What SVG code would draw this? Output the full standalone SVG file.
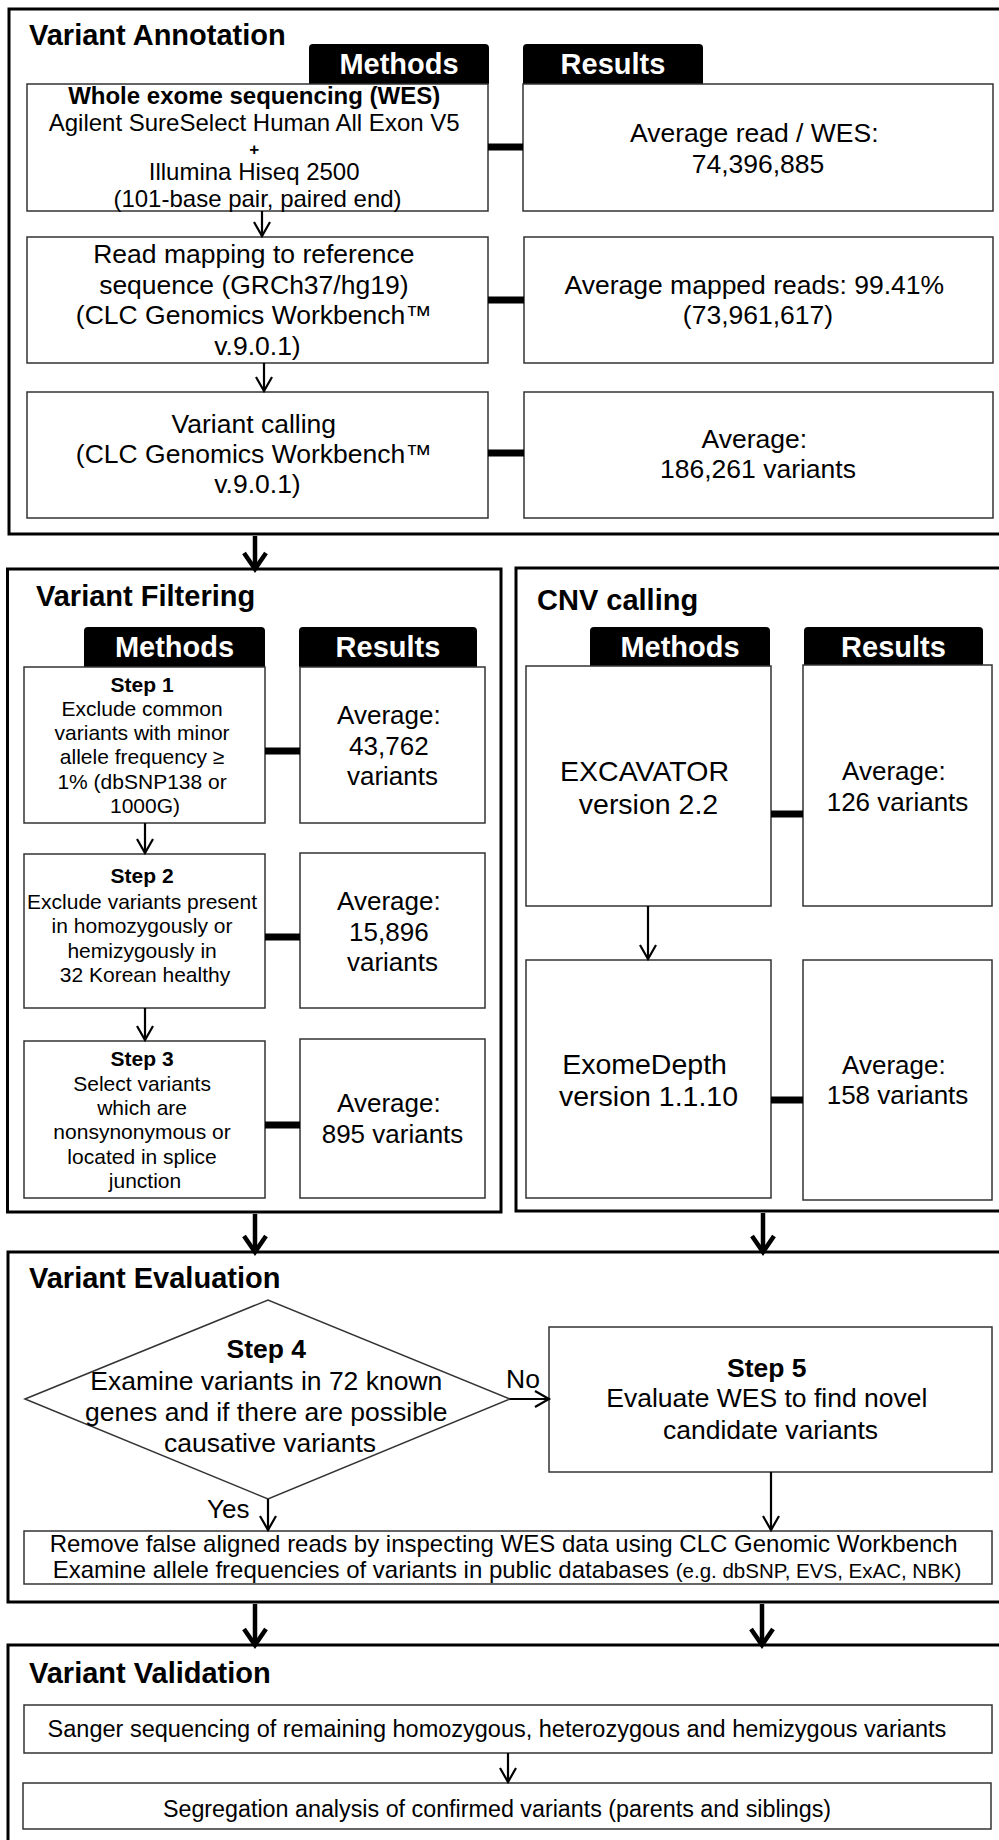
<svg xmlns="http://www.w3.org/2000/svg" width="999" height="1840" viewBox="0 0 999 1840">
<style>
.sec{fill:none;stroke:#000;stroke-width:3}
.box{fill:#fff;stroke:#333;stroke-width:1.5}
.tab{fill:#000}
.tabt{font-family:"Liberation Sans",Arial,sans-serif;font-weight:bold;font-size:29px;fill:#fff;text-anchor:middle}
.t{font-family:"Liberation Sans",Arial,sans-serif;fill:#000}
.c{text-anchor:middle}
.b{font-weight:bold}
.ttl{font-family:"Liberation Sans",Arial,sans-serif;font-weight:bold;font-size:29px;fill:#000}
.conn{stroke:#000;stroke-width:7;fill:none}
.arr{fill:none;stroke:#000;stroke-width:2.2;marker-end:url(#ah)}
.thick{fill:none;stroke:#000;stroke-width:4.5;marker-end:url(#ahb)}
</style>
<defs>
<marker id="ah" markerUnits="userSpaceOnUse" markerWidth="18" markerHeight="20" viewBox="0 0 18 20" refX="15" refY="10" orient="auto">
<path d="M1,2 L15,10 L1,18" fill="none" stroke="#000" stroke-width="2.2"/>
</marker>
<marker id="ahb" markerUnits="userSpaceOnUse" markerWidth="24" markerHeight="28" viewBox="0 0 24 28" refX="19" refY="14" orient="auto">
<path d="M3,3 L19,14 L3,25" fill="none" stroke="#000" stroke-width="4.5"/>
</marker>
</defs>
<rect width="999" height="1840" fill="#fff"/>

<!-- Variant Annotation -->
<g id="sec-annotation">
<rect class="sec" x="9" y="9" width="1000" height="525"/>
<text class="ttl" x="29" y="45">Variant Annotation</text>
<path class="tab" d="M309,84 V48 Q309,44 313,44 H485 Q489,44 489,48 V84 Z"/>
<text class="tabt" x="399" y="74">Methods</text>
<path class="tab" d="M523,84 V48 Q523,44 527,44 H699 Q703,44 703,48 V84 Z"/>
<text class="tabt" x="613" y="74">Results</text>
</g>
<g id="va-m1">
<rect class="box" x="27" y="84" width="461" height="127"/>
<text class="t c" font-size="24">
<tspan class="b" x="257.5" y="104">Whole exome sequencing (WES)</tspan>
<tspan x="257.5" y="131">Agilent SureSelect Human All Exon V5</tspan>
<tspan class="b" x="257.5" y="155" font-size="17">+</tspan>
<tspan x="257.5" y="180">Illumina Hiseq 2500</tspan>
<tspan x="257.5" y="207">(101-base pair, paired end)</tspan>
</text>
</g>
<g id="va-r1">
<rect class="box" x="523" y="84" width="470" height="127"/>
<text class="t c" font-size="26.5">
<tspan x="758" y="142">Average read / WES:</tspan>
<tspan x="758" y="173">74,396,885</tspan>
</text>
</g>
<g id="va-m2">
<rect class="box" x="27" y="237" width="461" height="126"/>
<text class="t c" font-size="26.5">
<tspan x="257.5" y="263">Read mapping to reference</tspan>
<tspan x="257.5" y="294">sequence (GRCh37/hg19)</tspan>
<tspan x="257.5" y="324">(CLC Genomics Workbench™</tspan>
<tspan x="257.5" y="355">v.9.0.1)</tspan>
</text>
</g>
<g id="va-r2">
<rect class="box" x="524" y="237" width="469" height="126"/>
<text class="t c" font-size="26.5">
<tspan x="758" y="294">Average mapped reads: 99.41%</tspan>
<tspan x="758" y="324">(73,961,617)</tspan>
</text>
</g>
<g id="va-m3">
<rect class="box" x="27" y="392" width="461" height="126"/>
<text class="t c" font-size="26.5">
<tspan x="257.5" y="433">Variant calling</tspan>
<tspan x="257.5" y="463">(CLC Genomics Workbench™</tspan>
<tspan x="257.5" y="493">v.9.0.1)</tspan>
</text>
</g>
<g id="va-r3">
<rect class="box" x="524" y="392" width="469" height="126"/>
<text class="t c" font-size="26.5">
<tspan x="758" y="448">Average:</tspan>
<tspan x="758" y="478">186,261 variants</tspan>
</text>
</g>

<!-- Variant Filtering -->
<g id="sec-filtering">
<rect class="sec" x="7.5" y="569" width="493.5" height="643"/>
<text class="ttl" x="36" y="606">Variant Filtering</text>
<path class="tab" d="M84,667 V631 Q84,627 88,627 H261 Q265,627 265,631 V667 Z"/>
<text class="tabt" x="174.5" y="657">Methods</text>
<path class="tab" d="M299,667 V631 Q299,627 303,627 H473 Q477,627 477,631 V667 Z"/>
<text class="tabt" x="388" y="657">Results</text>
</g>
<g id="vf-s1">
<rect class="box" x="24" y="667" width="241" height="156"/>
<text class="t c" font-size="21">
<tspan class="b" x="145" y="692">Step 1</tspan>
<tspan x="145" y="716">Exclude common</tspan>
<tspan x="145" y="740">variants with minor</tspan>
<tspan x="145" y="764">allele frequency ≥</tspan>
<tspan x="145" y="789">1% (dbSNP138 or</tspan>
<tspan x="145" y="813">1000G)</tspan>
</text>
</g>
<g id="vf-r1">
<rect class="box" x="300" y="667" width="185" height="156"/>
<text class="t c" font-size="26">
<tspan x="392.5" y="724">Average:</tspan>
<tspan x="392.5" y="755">43,762</tspan>
<tspan x="392.5" y="785">variants</tspan>
</text>
</g>
<g id="vf-s2">
<rect class="box" x="24" y="854" width="241" height="154"/>
<text class="t c" font-size="21">
<tspan class="b" x="145" y="883">Step 2</tspan>
<tspan x="145" y="909">Exclude variants present</tspan>
<tspan x="145" y="933">in homozygously or</tspan>
<tspan x="145" y="958">hemizygously in</tspan>
<tspan x="145" y="982">32 Korean healthy</tspan>
</text>
</g>
<g id="vf-r2">
<rect class="box" x="300" y="853" width="185" height="155"/>
<text class="t c" font-size="26">
<tspan x="392.5" y="910">Average:</tspan>
<tspan x="392.5" y="941">15,896</tspan>
<tspan x="392.5" y="971">variants</tspan>
</text>
</g>
<g id="vf-s3">
<rect class="box" x="24" y="1041" width="241" height="157"/>
<text class="t c" font-size="21">
<tspan class="b" x="145" y="1066">Step 3</tspan>
<tspan x="145" y="1091">Select variants</tspan>
<tspan x="145" y="1115">which are</tspan>
<tspan x="145" y="1139">nonsynonymous or</tspan>
<tspan x="145" y="1164">located in splice</tspan>
<tspan x="145" y="1188">junction</tspan>
</text>
</g>
<g id="vf-r3">
<rect class="box" x="300" y="1039" width="185" height="159"/>
<text class="t c" font-size="26">
<tspan x="392.5" y="1112">Average:</tspan>
<tspan x="392.5" y="1143">895 variants</tspan>
</text>
</g>

<!-- CNV calling -->
<g id="sec-cnv">
<rect class="sec" x="516" y="568" width="500" height="643"/>
<text class="ttl" x="537" y="610">CNV calling</text>
<path class="tab" d="M590,666 V631 Q590,627 594,627 H766 Q770,627 770,631 V666 Z"/>
<text class="tabt" x="680" y="657">Methods</text>
<path class="tab" d="M804,666 V631 Q804,627 808,627 H979 Q983,627 983,631 V666 Z"/>
<text class="tabt" x="893.5" y="657">Results</text>
</g>
<g id="cnv-m1">
<rect class="box" x="526" y="666" width="245" height="240"/>
<text class="t c" font-size="28.5">
<tspan x="648.5" y="781">EXCAVATOR</tspan>
<tspan x="648.5" y="814">version 2.2</tspan>
</text>
</g>
<g id="cnv-r1">
<rect class="box" x="803" y="665" width="189" height="241"/>
<text class="t c" font-size="26">
<tspan x="897.5" y="780">Average:</tspan>
<tspan x="897.5" y="811">126 variants</tspan>
</text>
</g>
<g id="cnv-m2">
<rect class="box" x="526" y="960" width="245" height="238"/>
<text class="t c" font-size="28.5">
<tspan x="648.5" y="1074">ExomeDepth</tspan>
<tspan x="648.5" y="1106">version 1.1.10</tspan>
</text>
</g>
<g id="cnv-r2">
<rect class="box" x="803" y="960" width="189" height="240"/>
<text class="t c" font-size="26">
<tspan x="897.5" y="1074">Average:</tspan>
<tspan x="897.5" y="1104">158 variants</tspan>
</text>
</g>

<!-- Variant Evaluation -->
<g id="sec-evaluation">
<rect class="sec" x="8" y="1252" width="1010" height="350"/>
<text class="ttl" x="29" y="1288">Variant Evaluation</text>
</g>
<g id="ve-step4">
<polygon points="25,1399 268,1300 510,1399 268,1499" fill="#fff" stroke="#333" stroke-width="1.5"/>
<text class="t c" font-size="26.5">
<tspan class="b" x="270" y="1358">Step 4</tspan>
<tspan x="270" y="1390">Examine variants in 72 known</tspan>
<tspan x="270" y="1421">genes and if there are possible</tspan>
<tspan x="270" y="1452">causative variants</tspan>
</text>
</g>
<g id="ve-step5">
<rect class="box" x="549" y="1327" width="443" height="145"/>
<text class="t c" font-size="26.5">
<tspan class="b" x="770.5" y="1377">Step 5</tspan>
<tspan x="770.5" y="1407">Evaluate WES to find novel</tspan>
<tspan x="770.5" y="1439">candidate variants</tspan>
</text>
</g>
<g id="ve-check">
<rect class="box" x="24" y="1531" width="968" height="53"/>
<text class="t c" font-size="24">
<tspan x="507" y="1552">Remove false aligned reads by inspecting WES data using CLC Genomic Workbench</tspan>
<tspan x="507" y="1578">Examine allele frequencies of variants in public databases <tspan font-size="20.5">(e.g. dbSNP, EVS, ExAC, NBK)</tspan></tspan>
</text>
</g>

<!-- Variant Validation -->
<g id="sec-validation">
<rect class="sec" x="8" y="1645" width="1010" height="210"/>
<text class="ttl" x="29" y="1683">Variant Validation</text>
</g>
<g id="vv-sanger">
<rect class="box" x="24" y="1705" width="968" height="48"/>
<text class="t c" font-size="23.5" x="497" y="1737">Sanger sequencing of remaining homozygous, heterozygous and hemizygous variants</text>
</g>
<g id="vv-seg">
<rect class="box" x="23" y="1783" width="968" height="46"/>
<text class="t c" font-size="23.3" x="497" y="1817">Segregation analysis of confirmed variants (parents and siblings)</text>
</g>

<!-- Connectors -->
<g id="connectors">
<line class="conn" x1="488" y1="147" x2="523" y2="147"/>
<line class="conn" x1="488" y1="300" x2="524" y2="300"/>
<line class="conn" x1="488" y1="453" x2="524" y2="453"/>
<line class="arr" x1="262" y1="211" x2="262" y2="236"/>
<line class="arr" x1="264" y1="363" x2="264" y2="391"/>
<line class="conn" x1="265" y1="751" x2="300" y2="751"/>
<line class="conn" x1="265" y1="937" x2="300" y2="937"/>
<line class="conn" x1="265" y1="1125" x2="300" y2="1125"/>
<line class="arr" x1="145" y1="823" x2="145" y2="853"/>
<line class="arr" x1="145" y1="1008" x2="145" y2="1040"/>
<line class="conn" x1="771" y1="814" x2="803" y2="814"/>
<line class="conn" x1="771" y1="1100" x2="803" y2="1100"/>
<line class="arr" x1="648" y1="906" x2="648" y2="959"/>
<line class="thick" x1="255" y1="536" x2="255" y2="569"/>
<line class="thick" x1="255" y1="1214" x2="255" y2="1252"/>
<line class="thick" x1="763" y1="1213" x2="763" y2="1252"/>
<line class="thick" x1="255" y1="1604" x2="255" y2="1645"/>
<line class="thick" x1="762" y1="1604" x2="762" y2="1645"/>
<line class="arr" x1="510" y1="1399" x2="549" y2="1399" stroke-width="3"/>
<text class="t" font-size="26.5" x="506" y="1388">No</text>
<line class="arr" x1="268" y1="1499" x2="268" y2="1530"/>
<text class="t" font-size="26" x="207" y="1518">Yes</text>
<line class="arr" x1="771" y1="1472" x2="771" y2="1530"/>
<line class="arr" x1="508" y1="1753" x2="508" y2="1782"/>
</g>
</svg>
